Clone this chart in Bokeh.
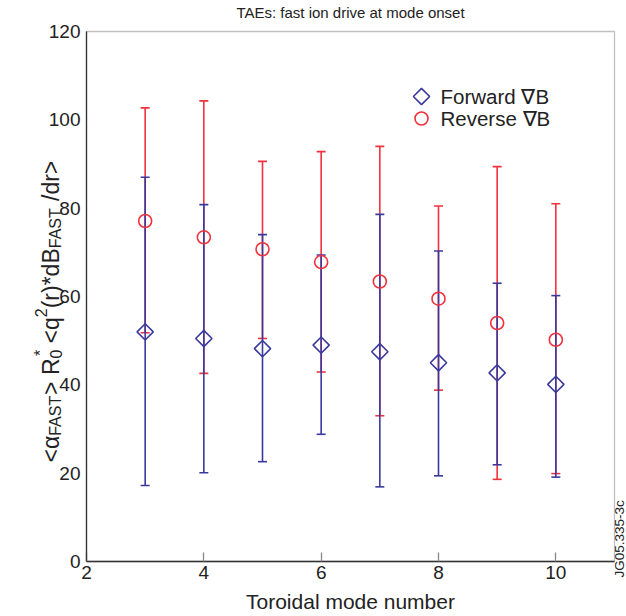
import math
from bokeh.plotting import figure
from bokeh.models import (ColumnDataSource, Whisker, TeeHead, Label, Range1d,
                          FixedTicker, LinearAxis, BoxAnnotation)
from bokeh.embed import file_html
from bokeh.resources import INLINE

# ---- data ----
modes = [3, 4, 5, 6, 7, 8, 9, 10]
fwd_mean = [52.0, 50.5, 48.2, 49.0, 47.5, 45.0, 42.7, 40.1]
fwd_low = [17.2, 20.1, 22.6, 28.8, 16.9, 19.4, 21.9, 19.1]
fwd_high = [87.0, 80.8, 74.0, 69.4, 78.6, 70.3, 63.0, 60.2]
rev_mean = [77.1, 73.4, 70.7, 67.8, 63.4, 59.5, 54.0, 50.2]
rev_low = [51.8, 42.6, 50.5, 42.9, 33.0, 38.8, 18.6, 19.9]
rev_high = [102.7, 104.3, 90.6, 92.8, 94.0, 80.5, 89.4, 81.0]
series_names = ["Forward \u2207B", "Reverse \u2207B"]
x_ticks = [2, 4, 6, 8, 10]
y_ticks = [0, 20, 40, 60, 80, 100, 120]
title_text = "TAEs: fast ion drive at mode onset"
x_label = "Toroidal mode number"
side_note = "JG05.335-3c"

# ---- layout / style ----
BLUE = "#3a3a9e"
RED = "#f0323c"
FONT = "Liberation Sans"
TXT = "#222222"
AXC = "#333333"
W, H = 626, 616
BL, BR, BT, BB = 86, 12, 31, 55          # where the axes box sits (px)
FW, FH = W - BL - BR, H - BT - BB
X0, X1, Y0, Y1 = 2, 11, 0, 120
KX, KY = FW / (X1 - X0), FH / (Y1 - Y0)   # px per data unit

# The drawing frame covers the whole canvas so that texts outside the axes
# box are not clipped; the axes are pinned at the box edges.
x_rng = Range1d(X0 - BL / KX, X1 + BR / KX)
y_rng = Range1d(Y0 - BB / KY, Y1 + BT / KY)

fwd = ColumnDataSource(dict(x=modes, y=fwd_mean, lo=fwd_low, hi=fwd_high))
rev = ColumnDataSource(dict(x=modes, y=rev_mean, lo=rev_low, hi=rev_high))

p = figure(width=W, height=H, output_backend="svg", toolbar_location=None,
           x_range=x_rng, y_range=y_rng, x_axis_type=None, y_axis_type=None,
           min_border=0)
p.xgrid.visible = False
p.ygrid.visible = False
p.outline_line_color = None

xa = LinearAxis(fixed_location=Y0, bounds=(X0, X1),
                ticker=FixedTicker(ticks=x_ticks))
ya = LinearAxis(fixed_location=X0, bounds=(Y0, Y1),
                ticker=FixedTicker(ticks=y_ticks))
for ax in (xa, ya):
    ax.axis_line_color = AXC
    ax.axis_line_width = 1.3
    ax.major_label_text_font = FONT
    ax.major_label_text_font_size = "19px"
    ax.major_label_text_color = TXT
    ax.minor_tick_line_color = None
xa.major_tick_in = 9
xa.major_tick_out = 0
xa.major_tick_line_color = "#888888"
xa.major_tick_line_width = 1.3
xa.major_label_standoff = 4
xa.axis_label = x_label
xa.axis_label_text_font = FONT
xa.axis_label_text_font_size = "21px"
xa.axis_label_text_font_style = "normal"
xa.axis_label_text_color = TXT
xa.axis_label_standoff = 8
ya.major_tick_in = 0
ya.major_tick_out = 0
ya.major_label_standoff = 6
p.add_layout(xa, "below")
p.add_layout(ya, "left")

# top and right edges of the axes box
p.add_layout(BoxAnnotation(left=X0, right=X1, bottom=Y0, top=Y1,
                           fill_alpha=0, line_color=AXC, line_width=1.3,
                           level="underlay"))

# error bars
for src, col in ((rev, RED), (fwd, BLUE)):
    wk = Whisker(source=src, base="x", lower="lo", upper="hi",
                 line_color=col, line_width=1.6,
                 lower_head=TeeHead(size=9, line_color=col, line_width=1.6),
                 upper_head=TeeHead(size=9, line_color=col, line_width=1.6))
    p.add_layout(wk)

DIAMOND = dict(marker="square", size=11.5, angle=math.pi / 4,
               fill_color=None, line_color=BLUE, line_width=1.6)
CIRCLE = dict(marker="circle", size=13, fill_color=None, line_color=RED,
              line_width=1.6)
p.scatter("x", "y", source=rev, **CIRCLE)
p.scatter("x", "y", source=fwd, **DIAMOND)


def put(text, x, y, size, angle=0.0, align="left", baseline="alphabetic"):
    """Text at page pixels (x, y) from the top-left corner."""
    p.add_layout(Label(x=x, y=H - y, x_units="screen", y_units="screen",
                       text=text, angle=angle, text_align=align,
                       text_baseline=baseline, text_font=FONT,
                       text_font_size=f"{size}px", text_color=TXT))


# ---- legend (glyph + label) ----
LEG_GLYPH_X, LEG_TEXT_X, LEG_ROWS = 421, 440, (96, 118)
for name, row, style in zip(series_names, LEG_ROWS, (DIAMOND, CIRCLE)):
    gx = x_rng.start + LEG_GLYPH_X / KX
    gy = y_rng.end - row / KY
    p.scatter(x=[gx], y=[gy], **style)
    put(name, LEG_TEXT_X, row, 20.5, baseline="middle")

# ---- title ----
put(title_text, BL + FW / 2, 12, 15, align="center")

# ---- y-axis label built from pieces, with sub/superscripts ----
MAIN, SUB = 23, 16
adv = {"<": .584, ">": .584, "\u03b1": .578, "F": .611, "A": .667, "S": .667,
       "T": .611, "R": .722, "0": .556, "*": .389, "q": .556, "2": .556,
       "(": .333, ")": .333, "r": .333, "d": .556, "B": .667, "/": .278}
GAP = 0.278 * MAIN
# (text, kind: 0 main / 1 subscript / 2 superscript, gap before)
pieces = [("<\u03b1", 0, 0), ("FAST", 1, 0), (">", 0, 0), ("R", 0, GAP),
          ("0", 1, 0), ("*", 2, -6.5), ("<q", 0, GAP), ("2", 2, 0),
          ("(r)*dB", 0, 0), ("FAST", 1, 0), ("/dr>", 0, GAP)]
base_x = 50
ypos = 462
for txt, kind, gap in pieces:
    fs = MAIN if kind == 0 else SUB
    bx = base_x + (5 if kind == 1 else (-10 if kind == 2 else 0))
    ypos -= gap
    put(txt, bx, ypos, fs, angle=math.pi / 2)
    ypos -= sum(adv[c] for c in txt) * fs

# ---- side annotation at the right edge ----
put(side_note, 619, 577, 13.5, angle=math.pi / 2)

open("out.html", "w").write(file_html(p, INLINE))
